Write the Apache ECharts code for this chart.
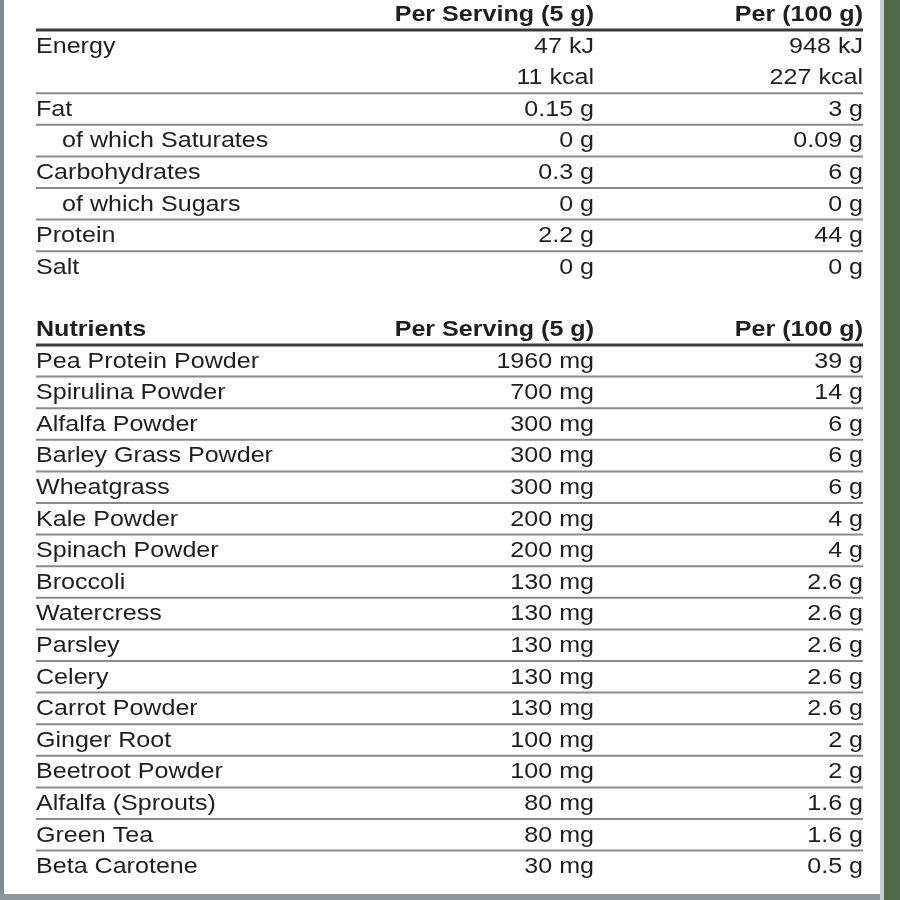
<!DOCTYPE html>
<html><head><meta charset="utf-8">
<script src="https://cdn.jsdelivr.net/npm/echarts@6/dist/echarts.min.js"></script>
<style>html,body{margin:0;padding:0;background:#fff}#c{width:900px;height:900px}</style>
</head><body><div id="c"></div>
<script>
const headers1 = ["", "Per Serving (5 g)", "Per (100 g)"];
const labels1 = ["Energy", "", "Fat", "  of which Saturates", "Carbohydrates", "  of which Sugars", "Protein", "Salt"];
const serving1 = ["47 kJ", "11 kcal", "0.15 g", "0 g", "0.3 g", "0 g", "2.2 g", "0 g"];
const per100_1 = ["948 kJ", "227 kcal", "3 g", "0.09 g", "6 g", "0 g", "44 g", "0 g"];
const headers2 = ["Nutrients", "Per Serving (5 g)", "Per (100 g)"];
const labels2 = ["Pea Protein Powder","Spirulina Powder","Alfalfa Powder","Barley Grass Powder","Wheatgrass","Kale Powder","Spinach Powder","Broccoli","Watercress","Parsley","Celery","Carrot Powder","Ginger Root","Beetroot Powder","Alfalfa (Sprouts)","Green Tea","Beta Carotene"];
const serving2 = ["1960 mg","700 mg","300 mg","300 mg","300 mg","200 mg","200 mg","130 mg","130 mg","130 mg","130 mg","130 mg","100 mg","100 mg","80 mg","80 mg","30 mg"];
const per100_2 = ["39 g","14 g","6 g","6 g","6 g","4 g","4 g","2.6 g","2.6 g","2.6 g","2.6 g","2.6 g","2 g","2 g","1.6 g","1.6 g","0.5 g"];

const L = 36, C1 = 594, C2 = 863, pitch = 31.6;
const font = '"Liberation Sans", Arial, sans-serif';
const els = [];
function txt(x, y, s, align, bold) {
  els.push({type:'text', x, y: y + 1, scaleX: 1.14, style:{text:s, x:0, y:0, textAlign:align, textVerticalAlign:'middle', font:(bold?'bold ':'')+'22px '+font, fill:'#1e1e1e'}});
}
function line(y, w, c) {
  els.push({type:'line', shape:{x1:L, y1:y, x2:C2, y2:y}, style:{stroke:c, lineWidth:w}});
}
function section(top, hdr, labs, s, p) {
  txt(L, top, hdr[0], 'left', true);
  txt(C1, top, hdr[1], 'right', true);
  txt(C2, top, hdr[2], 'right', true);
  line(top + 16, 3, '#3a3a3a');
  labs.forEach((lab, i) => {
    const y = top + pitch * (i + 1);
    const indent = lab.startsWith('  ');
    txt(L + (indent ? 26 : 0), y, lab.trim(), 'left', false);
    txt(C1, y, s[i], 'right', false);
    txt(C2, y, p[i], 'right', false);
    if (i < labs.length - 1 && !(labs[i+1] === '')) line(y + 16, 2, '#8a8a8a');
  });
}
section(14, headers1, labels1, serving1, per100_1);
section(329, headers2, labels2, serving2, per100_2);
els.push({type:'rect', shape:{x:0,y:0,width:4,height:900}, style:{fill:'#7f8c92'}});
els.push({type:'rect', shape:{x:0,y:894,width:900,height:6}, style:{fill:'#8d969a'}});
els.push({type:'rect', shape:{x:884,y:0,width:16,height:900}, style:{fill:'#4f6a4a'}});
els.push({type:'rect', shape:{x:880,y:0,width:4,height:900}, style:{fill:'#c9d0d2'}});

const chart = echarts.init(document.getElementById('c'));
chart.setOption({backgroundColor:'#fff', graphic:{elements:els}});
</script></body></html>
